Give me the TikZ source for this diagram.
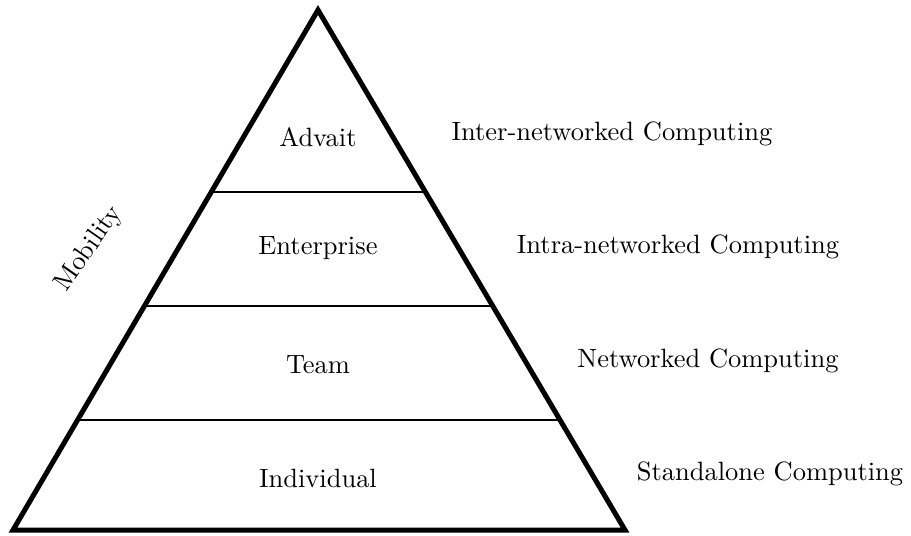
\documentclass[tikz,border=0pt]{standalone}
\usepackage{amsmath}
\usepackage{tikz}
\usetikzlibrary{calc}

\begin{document}
\begin{tikzpicture}[every node/.style={font=\normalsize}]
\useasboundingbox (0,0) rectangle (12.098,7.105);
\coordinate (apex) at (4.223, 6.972); % top
\coordinate (bl) at (0.173, 0.066); % base left
\coordinate (br) at (8.300, 0.066); % base right
\draw[line width=1.9pt, line join=miter] (apex) -- (bl) -- (br) -- cycle; % pyramid
\foreach \t/\n in {0.350/a, 0.569/b, 0.788/c} {
  \coordinate (l\n) at ($(apex)!\t!(bl)$);
  \coordinate (r\n) at ($(apex)!\t!(br)$);
  \draw[thick] (l\n) -- (r\n); % level
}
\node (advait) at (4.223, 5.286) {Advait};
\node (enterprise) at (4.223, 3.811) {Enterprise};
\node (team) at (4.223, 2.258) {Team};
\node (individual) at (4.223, 0.757) {Individual};
\node (inter) at (8.127, 5.325) {Inter-networked Computing};
\node (intra) at (9.004, 3.825) {Intra-networked Computing};
\node (networked) at (9.402, 2.311) {Networked Computing};
\node (standalone) at (10.226, 0.810) {Standalone Computing};
\node[rotate=55] (mobility) at (1.182, 3.798) {Mobility};
\end{tikzpicture}
\end{document}
